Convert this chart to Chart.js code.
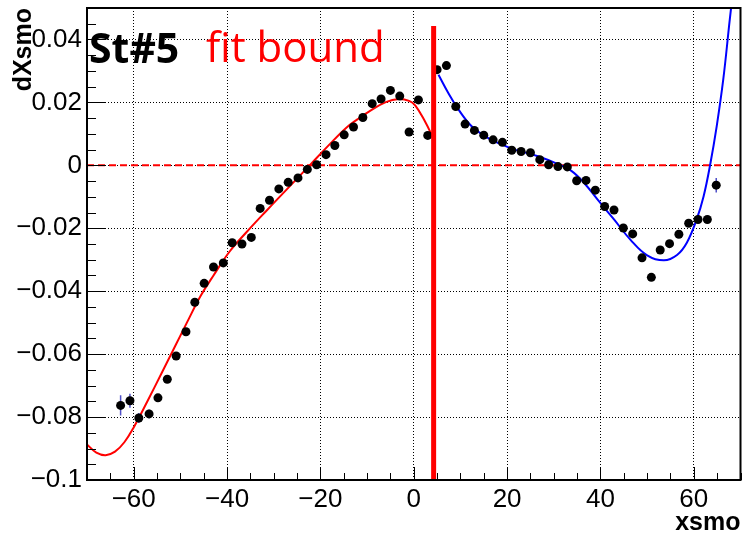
<!DOCTYPE html>
<html>
<head>
<meta charset="utf-8">
<script src="https://cdn.jsdelivr.net/npm/chart.js@4.4.0/dist/chart.umd.min.js"></script>
<style>
  html, body { margin: 0; padding: 0; background: #fff; }
  #wrap { position: relative; width: 745px; height: 536px; }
</style>
</head>
<body>
<div id="wrap"><canvas id="c" width="745" height="536"></canvas></div>
<script>
// axis ranges and tick labels
const X_MIN = -70, X_MAX = 70;
const Y_MIN = -0.1, Y_MAX = 0.05;
const xTicks = [-60, -40, -20, 0, 20, 40, 60];
const yTicks = [-0.1, -0.08, -0.06, -0.04, -0.02, 0, 0.02, 0.04];

// measured points (bin centre, value, error)
const xsmo = [
    -62.8, -60.8, -58.9, -56.7, -54.8, -52.8, -50.9, -48.8, -46.9, -44.9,
    -42.9, -40.8, -38.9, -36.8, -34.8, -32.9, -30.9, -28.9, -26.9, -24.8,
    -22.8, -20.8, -18.8, -16.9, -14.9, -12.9, -10.9, -8.9, -7.0, -5.0,
    -3.0, -1.0, 1.0, 3.0,
    5.0, 7.0, 9.0, 11.0, 13.0, 15.0, 17.0, 19.0, 21.0, 23.0,
    25.0, 27.0, 28.9, 30.9, 32.9, 34.9, 36.9, 38.9, 40.9, 42.9,
    44.9, 46.9, 48.9, 50.9, 52.8, 54.8, 56.8, 58.9, 60.9, 62.9, 64.8
];
const dXsmo = [
    -0.0763, -0.0748, -0.0803, -0.0790, -0.0739, -0.0680, -0.0606, -0.0529, -0.0435, -0.0375,
    -0.0323, -0.0310, -0.0246, -0.0250, -0.0229, -0.0137, -0.0111, -0.0075, -0.0054, -0.0040,
    -0.0013, 0.0002, 0.0034, 0.0063, 0.0097, 0.0122, 0.0152, 0.0196, 0.0211, 0.0238,
    0.0220, 0.0106, 0.0208, 0.0095,
    0.0304, 0.0317, 0.0187, 0.0131, 0.0111, 0.0096, 0.0081, 0.0073, 0.0048, 0.0044,
    0.0040, 0.0018, 0.0002, -0.0004, -0.0005, -0.0049, -0.0048, -0.0079, -0.0131, -0.0142,
    -0.0199, -0.0218, -0.0294, -0.0356, -0.0269, -0.0249, -0.0219, -0.0184, -0.0172, -0.0172, -0.0063
];
const dXsmoErr = [
    0.0032, 0.0022, 0.0016, 0.0014, 0.0010, 0.0010, 0.0009, 0.0009, 0.0008, 0.0008,
    0.0008, 0.0008, 0.0008, 0.0008, 0.0008, 0.0008, 0.0008, 0.0008, 0.0008, 0.0008,
    0.0008, 0.0008, 0.0008, 0.0008, 0.0008, 0.0008, 0.0008, 0.0008, 0.0008, 0.0008,
    0.0008, 0.0008, 0.0008, 0.0008,
    0.0008, 0.0008, 0.0008, 0.0008, 0.0008, 0.0008, 0.0008, 0.0008, 0.0008, 0.0008,
    0.0008, 0.0008, 0.0008, 0.0008, 0.0008, 0.0008, 0.0008, 0.0008, 0.0008, 0.0008,
    0.0008, 0.0008, 0.0008, 0.0008, 0.0008, 0.0008, 0.0009, 0.0010, 0.0010, 0.0012, 0.0023
];

// fit curves
const fitLoX = [-70, -68, -66, -64, -62, -60, -57, -54, -51, -48.6, -45.7, -42.9, -39.4,
    -35.8, -31.6, -27.3, -22.3, -18.4, -14.5, -12, -9.6, -6, -3.2, -1, 0.35, 2.5, 3.6, 4.6];
const fitLoY = [-0.0887, -0.0913, -0.0921, -0.0910, -0.0880, -0.0833, -0.0748, -0.0660, -0.0571,
    -0.0500, -0.0416, -0.0350, -0.0273, -0.0212, -0.0145, -0.0078, 0.0000, 0.0061, 0.0119,
    0.0147, 0.0171, 0.0201, 0.0211, 0.0205, 0.0190, 0.0137, 0.0104, 0.0069];
const fitHiX = [5.3, 7.4, 9.6, 12.4, 15.3, 18.1, 21.6, 26.6, 30.9, 33.7, 36.5, 39.4, 42.9,
    46.4, 50.0, 53.6, 56.4, 58.5, 60.6, 62.1, 63.5, 64.9, 66.3, 67.7, 68.6];
const fitHiY = [0.0288, 0.0230, 0.0177, 0.0124, 0.0092, 0.0071, 0.0050, 0.0029, 0.0004, -0.0017,
    -0.0056, -0.0109, -0.0172, -0.0236, -0.0286, -0.0302, -0.0285, -0.0246, -0.0172, -0.0098,
    0.0002, 0.0124, 0.0272, 0.0463, 0.0580];

// fit boundary marker
const boundX = 4.26;
const boundY = [-0.1, 0.0443];

const pts = xsmo.map((x, i) => ({ x: x, y: dXsmo[i] }));
const xy = (xs, ys) => xs.map((x, i) => ({ x: x, y: ys[i] }));

function fmtTick(v) {
    const s = String(parseFloat(Number(v).toFixed(3)));
    return s.replace('-', '\u2212');
}

const errorBars = {
    id: 'errorBars',
    beforeDatasetsDraw(chart) {
        const { ctx, scales: { x, y } } = chart;
        ctx.save();
        ctx.strokeStyle = '#5050c8';
        ctx.lineWidth = 1.5;
        ctx.beginPath();
        xsmo.forEach((v, i) => {
            const px = x.getPixelForValue(v);
            ctx.moveTo(px, y.getPixelForValue(dXsmo[i] - dXsmoErr[i]));
            ctx.lineTo(px, y.getPixelForValue(dXsmo[i] + dXsmoErr[i]));
        });
        ctx.stroke();
        ctx.restore();
    }
};

// ROOT style frame: box plus inward major/minor ticks on left and bottom
const rootFrame = {
    id: 'rootFrame',
    afterDatasetsDraw(chart) {
        const { ctx, chartArea: a, scales: { x, y } } = chart;
        ctx.save();
        ctx.strokeStyle = '#000';
        ctx.lineWidth = 1;
        ctx.beginPath();
        for (let i = 0; i <= 28; i++) {
            const v = X_MIN + i * 5;
            const px = Math.round(x.getPixelForValue(v)) + 0.5;
            const len = (i % 4 === 2) ? 13 : 7;
            ctx.moveTo(px, a.bottom);
            ctx.lineTo(px, a.bottom - len);
        }
        for (let i = 0; i <= 30; i++) {
            const v = Y_MIN + i * 0.005;
            const py = Math.round(y.getPixelForValue(v)) + 0.5;
            const len = (i % 4 === 0) ? 18 : 9;
            ctx.moveTo(a.left, py);
            ctx.lineTo(a.left + len, py);
        }
        ctx.stroke();
        ctx.lineWidth = 2;
        ctx.strokeRect(a.left, a.top, a.right - a.left, a.bottom - a.top);
        ctx.restore();
    }
};

const labelText = {
    id: 'labelText',
    afterDraw(chart) {
        const ctx = chart.ctx;
        ctx.save();
        ctx.textBaseline = 'alphabetic';
        ctx.textAlign = 'left';
        ctx.fillStyle = '#000';
        ctx.font = 'bold 41px "Open Sans"';
        ctx.fillText('St#5', 89, 63);
        ctx.fillStyle = '#ff0000';
        ctx.font = '42px "Open Sans"';
        ctx.fillText('fit bound', 206, 62);
        ctx.restore();
    }
};

const tickFont = { family: '"Liberation Sans", Arial, sans-serif', size: 26 };
const titleFont = { family: '"Liberation Sans", Arial, sans-serif', size: 25, weight: 'bold', lineHeight: 1 };

new Chart(document.getElementById('c'), {
    type: 'scatter',
    plugins: [errorBars, rootFrame, labelText],
    data: {
        datasets: [
            {
                type: 'line', data: [{ x: boundX, y: boundY[0] }, { x: boundX, y: boundY[1] }],
                borderColor: '#ff0000', borderWidth: 5, pointRadius: 0, order: 0
            },
            {
                type: 'scatter', data: pts,
                backgroundColor: '#000', borderWidth: 0, pointRadius: 4.5, order: 1
            },
            {
                type: 'line', data: xy(fitLoX, fitLoY),
                borderColor: '#ff0000', borderWidth: 2, pointRadius: 0,
                tension: 0.4, order: 2
            },
            {
                type: 'line', data: xy(fitHiX, fitHiY),
                borderColor: '#0000ff', borderWidth: 2, pointRadius: 0,
                tension: 0.4, order: 2
            },
            {
                type: 'line', data: [{ x: X_MIN, y: 0 }, { x: X_MAX, y: 0 }],
                borderColor: '#ff0000', borderWidth: 2, borderDash: [7, 4], pointRadius: 0, order: 3
            }
        ]
    },
    options: {
        responsive: false,
        animation: false,
        events: [],
        layout: { padding: { top: 8, right: 2, bottom: 0, left: 0 } },
        plugins: { legend: { display: false }, tooltip: { enabled: false } },
        scales: {
            x: {
                type: 'linear', min: X_MIN, max: X_MAX,
                afterBuildTicks: s => { s.ticks = xTicks.map(v => ({ value: v })); },
                afterFit: s => { s.height = 56; s.paddingLeft = 0; s.paddingRight = 0; },
                ticks: { color: '#000', font: tickFont, padding: 4, maxRotation: 0, callback: v => fmtTick(v) },
                grid: { color: '#000', lineWidth: 1, drawTicks: false },
                border: { display: false, dash: [1, 2] },
                title: { display: true, text: 'xsmo', align: 'end', color: '#000', font: titleFont, padding: { top: 0, bottom: 0 } }
            },
            y: {
                type: 'linear', min: Y_MIN, max: Y_MAX,
                afterBuildTicks: s => { s.ticks = yTicks.map(v => ({ value: v })); },
                afterFit: s => { s.width = 87; s.paddingTop = 0; s.paddingBottom = 0; },
                ticks: { color: '#000', font: tickFont, padding: 5, callback: v => fmtTick(v) },
                grid: { color: '#000', lineWidth: 1, drawTicks: false },
                border: { display: false, dash: [1, 2] },
                title: { display: true, text: 'dXsmo', align: 'end', color: '#000', font: titleFont, padding: { top: 12, bottom: 0 } }
            }
        }
    }
});
</script>
</body>
</html>
